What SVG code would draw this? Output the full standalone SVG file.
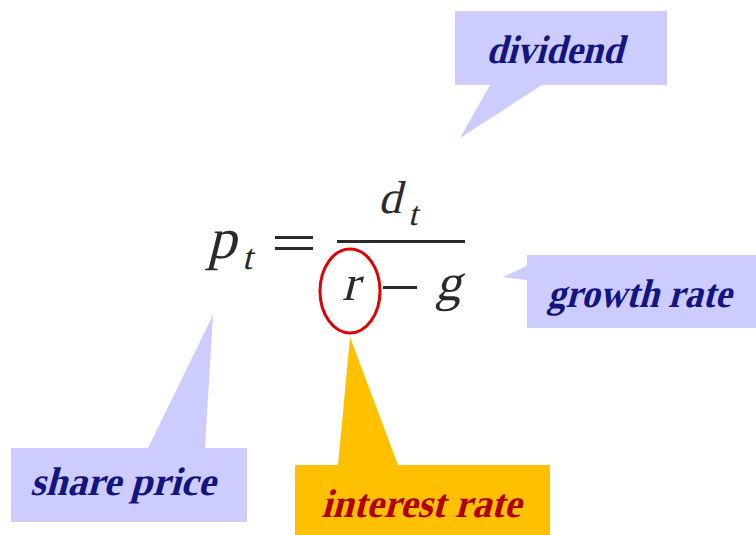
<svg xmlns="http://www.w3.org/2000/svg" width="756" height="535" viewBox="0 0 756 535">
<style>
.blue{fill:#ccccff}
.gold{fill:#ffc000}
.lbl{font-family:'Liberation Serif',serif;font-weight:bold;font-size:40px}
.lb{fill:#14147f}
.lr{fill:#b00000}
.m{font-family:'Liberation Serif',serif;fill:#2a2a2a}
</style>
<rect width="756" height="535" fill="#ffffff"/>
<g id="dividend">
<path class="blue" d="M455,11 H667 V85 H542 L460,138 L490,85 H455 Z"/>
<text class="lbl lb" transform="translate(486,63) skewX(-15)" textLength="137" lengthAdjust="spacingAndGlyphs">dividend</text>
</g>
<g id="growth-rate">
<path class="blue" d="M527,255 H756 V328 H527 V280 L503,277 L527,266 Z"/>
<text class="lbl lb" transform="translate(547,307) skewX(-15)" font-size="38" textLength="184" lengthAdjust="spacingAndGlyphs">growth rate</text>
</g>
<g id="share-price">
<path class="blue" d="M11,448 H148 L213,315 L205,448 H247 V522 H11 Z"/>
<text class="lbl lb" transform="translate(30,495) skewX(-15)" textLength="185" lengthAdjust="spacingAndGlyphs">share price</text>
</g>
<g id="interest-rate">
<path class="gold" d="M295,465 H338 L350,337 L398,465 H550 V535 H295 Z"/>
<text class="lbl lr" transform="translate(321,517) skewX(-15)" textLength="200" lengthAdjust="spacingAndGlyphs">interest rate</text>
</g>
<g id="equation">
<text class="m" transform="translate(207,258) skewX(-14)" font-size="58">p</text>
<text class="m" transform="translate(242,269) skewX(-14)" font-size="36">t</text>
<rect x="275" y="236" width="38" height="3" fill="#2a2a2a"/>
<rect x="275" y="247" width="38" height="3" fill="#2a2a2a"/>
<text class="m" transform="translate(378,213) skewX(-14)" font-size="46">d</text>
<text class="m" transform="translate(408,225) skewX(-14)" font-size="34">t</text>
<rect x="337" y="240" width="128" height="3" fill="#2a2a2a"/>
<text class="m" transform="translate(342,300) skewX(-14)" font-size="50">r</text>
<rect x="383" y="286" width="34" height="3" fill="#2a2a2a"/>
<text class="m" transform="translate(435,300) skewX(-14)" font-size="52">g</text>
<ellipse cx="350" cy="291" rx="30" ry="42" fill="none" stroke="#e00000" stroke-width="3"/>
</g>
<g id="connectors"></g>
</svg>
